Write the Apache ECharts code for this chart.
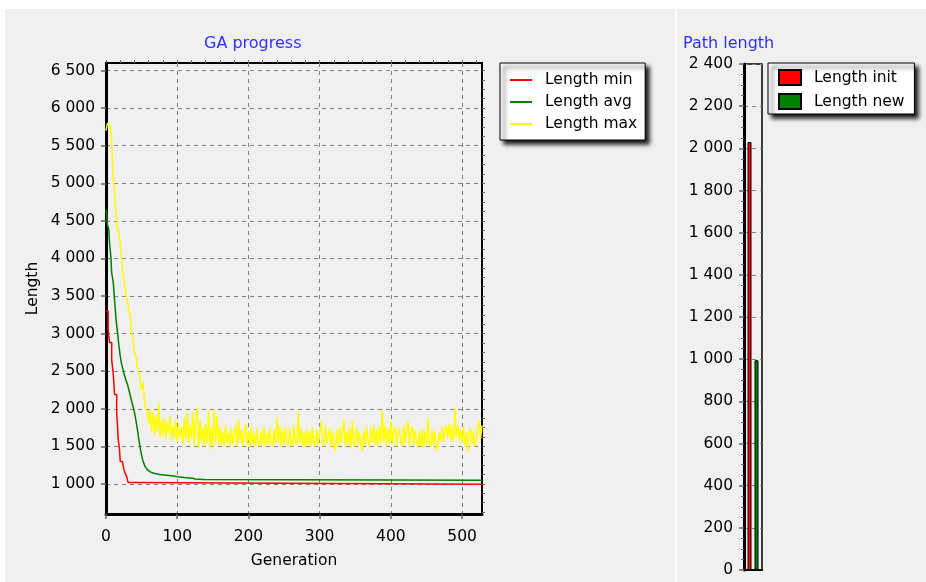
<!DOCTYPE html>
<html>
<head>
<meta charset="utf-8">
<title>GA progress</title>
<script src="https://cdn.jsdelivr.net/npm/echarts@6/dist/echarts.min.js"></script>
<style>
html, body { margin: 0; padding: 0; background: #fff; }
#chart { width: 926px; height: 582px; }
</style>
</head>
<body>
<div id="chart"></div>
<script>
// GA progress: step data for the min curve, break points for the avg curve
const minGens = [0, 3, 5, 8, 10, 11, 12, 15, 16, 17, 19, 20, 23, 25, 27, 29, 31, 40, 528]
const minValues = [3300, 3050, 2880, 2650, 2480, 2350, 2190, 1930, 1800, 1610, 1450, 1300, 1290, 1200, 1140, 1100, 1020, 995, 995]

const avgGens = [0, 1, 2, 4, 5, 7, 8, 10, 12, 14, 16, 18, 20, 22, 25, 28, 30, 33, 36, 38, 40, 42, 44, 46, 48, 50, 52, 55, 58, 62, 66, 75, 85, 95, 100, 110, 122, 125, 138, 140, 528]
const avgValues = [4650, 4600, 4450, 4380, 4200, 4000, 3800, 3700, 3450, 3200, 3030, 2850, 2700, 2590, 2480, 2380, 2330, 2220, 2100, 2030, 1950, 1850, 1730, 1600, 1480, 1380, 1300, 1230, 1190, 1160, 1145, 1125, 1115, 1105, 1095, 1085, 1075, 1065, 1060, 1050, 1050]

// max length, one value every 2 generations (0..528)
const maxStep = 2
const maxValues = [
  5700, 5800, 5780, 5750, 5550, 5100, 4900, 4600, 4400, 4350,
  4200, 4000, 3800, 3650, 3500, 3450, 3300, 3250, 3000, 2900,
  2750, 2700, 2550, 2500, 2400, 2250, 2350, 2100, 2000, 1950,
  1800, 2000, 1700, 1950, 1650, 1900, 1700, 2080, 1620, 1850,
  1650, 1880, 1600, 1820, 1680, 1900, 1580, 1780, 1620, 1850,
  1560, 1800, 1620, 1750, 1520, 1880, 1600, 1950, 1540, 1780,
  1600, 1960, 1500, 1820, 2020, 1480, 1850, 1560, 1760, 1500,
  1800, 1540, 1980, 1500, 1760, 1460, 2000, 1560, 1900, 1520,
  1760, 1520, 1700, 1500, 1780, 1540, 1680, 1500, 1740, 1520,
  1680, 1780, 1500, 1860, 1560, 1720, 1500, 1680, 1800, 1520,
  1700, 1480, 1760, 1520, 1680, 1500, 1740, 1540, 1500, 1700,
  1520, 1760, 1500, 1680, 1520, 1740, 1560, 1500, 1720, 1540,
  1880, 1540, 1780, 1500, 1720, 1520, 1760, 1560, 1500, 1740,
  1540, 1500, 1780, 1560, 1520, 1960, 1540, 1740, 1500, 1700,
  1480, 1720, 1520, 1700, 1500, 1760, 1540, 1500, 1720, 1520,
  1680, 1840, 1560, 1500, 1780, 1540, 1520, 1740, 1480, 1700,
  1520, 1440, 1720, 1500, 1760, 1540, 1680, 1860, 1500, 1700,
  1520, 1740, 1480, 1840, 1540, 1500, 1760, 1520, 1700, 1500,
  1440, 1700, 1520, 1760, 1560, 1500, 1740, 1540, 1780, 1520,
  1720, 1500, 1760, 1540, 1980, 1560, 1780, 1500, 1740, 1540,
  1840, 1520, 1720, 1760, 1500, 1700, 1740, 1540, 1500, 1780,
  1540, 1740, 1840, 1500, 1720, 1760, 1520, 1720, 1560, 1480,
  1700, 1500, 1720, 1480, 1700, 1520, 1880, 1540, 1500, 1720,
  1520, 1700, 1440, 1500, 1680, 1560, 1760, 1560, 1720, 1780,
  1620, 1800, 1580, 1760, 1560, 2010, 1620, 1780, 1580, 1720,
  1540, 1760, 1500, 1700, 1440, 1680, 1740, 1520, 1700, 1500,
  1560, 1760, 1840, 1600, 1780
]

const xTicks = [0, 100, 200, 300, 400, 500]
const yTicks = [1000, 1500, 2000, 2500, 3000, 3500, 4000, 4500, 5000, 5500, 6000, 6500]

// Path length bars
const pathNames = ['Length init', 'Length new']
const pathValues = [2030, 995]

const font = 'DejaVu Sans'
const fmt = v => String(v).replace(/\B(?=(\d{3})+(?!\d))/g, ' ')

// minor tick positions
const xMinor = []
for (let g = 0; g <= 528; g += 20) xMinor.push(g)
const yMinor = []
for (let v = 625; v <= 6600; v += 125) yMinor.push(v)

const dashed = { color: '#808080', width: 1, type: [4, 4] }
const legendBox = {
  orient: 'vertical',
  backgroundColor: '#fff',
  borderColor: '#000',
  borderWidth: 1,
  borderRadius: 0,
  shadowColor: 'rgba(0,0,0,0.9)',
  shadowBlur: 4,
  shadowOffsetX: 4,
  shadowOffsetY: 4,
  icon: 'rect',
  textStyle: { fontSize: 15.5, color: '#000', fontFamily: font, padding: [0, 0, 0, 8] }
}

const chart = echarts.init(document.getElementById('chart'))
chart.setOption({
  animation: false,
  textStyle: { fontFamily: font },
  graphic: [
    { type: 'rect', z: -100, shape: { x: 5, y: 9, width: 670, height: 573 }, style: { fill: '#f0f0f0' } },
    { type: 'rect', z: -100, shape: { x: 677, y: 9, width: 249, height: 573 }, style: { fill: '#f0f0f0' } }
  ],
  title: [
    { text: 'GA progress', left: 199, top: 31, textStyle: { color: '#3030ff', fontSize: 16, fontWeight: 'normal', fontFamily: font } },
    { text: 'Path length', left: 678, top: 31, textStyle: { color: '#3030ff', fontSize: 16, fontWeight: 'normal', fontFamily: font } }
  ],
  legend: [Object.assign({}, legendBox, {
    left: 500,
    top: 63,
    data: ['Length min', 'Length avg', 'Length max'],
    itemWidth: 22,
    itemHeight: 2,
    itemGap: 6,
    padding: [9, 8, 8, 10]
  }), Object.assign({}, legendBox, {
    left: 768,
    top: 63,
    data: pathNames,
    itemWidth: 22,
    itemHeight: 15,
    itemGap: 7,
    padding: [6, 10, 4, 10]
  })],
  grid: [
    { left: 106, top: 63, width: 376, height: 451, show: true, borderColor: '#000', borderWidth: 2, backgroundColor: 'transparent' },
    { left: 744, top: 64, width: 18, height: 506, show: true, borderColor: '#000', borderWidth: 1.5, backgroundColor: 'transparent' }
  ],
  xAxis: [{
    type: 'value',
    gridIndex: 0,
    min: 0,
    max: 528,
    name: 'Generation',
    nameLocation: 'middle',
    nameGap: 39,
    nameTextStyle: { fontSize: 15.5, color: '#000', fontFamily: font },
    axisLine: { show: true, onZero: false, lineStyle: { color: '#000', width: 3 } },
    axisTick: { show: true, customValues: xTicks, length: 5, lineStyle: { color: '#666', width: 1.5 } },
    axisLabel: { customValues: xTicks, margin: 15, fontSize: 15.5, color: '#000', fontFamily: font },
    splitLine: { show: true, lineStyle: dashed }
  }, {
    type: 'value',
    gridIndex: 0,
    min: 0,
    max: 528,
    axisLine: { show: false, onZero: false },
    axisTick: { show: true, customValues: xMinor, length: 3, lineStyle: { color: '#666', width: 1 } },
    axisLabel: { show: false },
    splitLine: { show: false }
  }, {
    type: 'category',
    gridIndex: 1,
    data: [''],
    axisLine: { show: true, lineStyle: { color: '#000', width: 2 } },
    axisTick: { show: false },
    axisLabel: { show: false },
    splitLine: { show: false }
  }],
  yAxis: [{
    type: 'value',
    gridIndex: 0,
    min: 600,
    max: 6600,
    name: 'Length',
    nameLocation: 'middle',
    nameGap: 65,
    nameTextStyle: { fontSize: 15.5, color: '#000', fontFamily: font },
    axisLine: { show: true, onZero: false, lineStyle: { color: '#000', width: 3 } },
    axisTick: { show: true, customValues: yTicks, length: 5, lineStyle: { color: '#666', width: 1.5 } },
    axisLabel: { customValues: yTicks, margin: 11, fontSize: 15.5, color: '#000', fontFamily: font, formatter: fmt },
    splitLine: { show: true, lineStyle: dashed }
  }, {
    type: 'value',
    gridIndex: 0,
    min: 600,
    max: 6600,
    axisLine: { show: false, onZero: false },
    axisTick: { show: true, customValues: yMinor, length: 3, lineStyle: { color: '#666', width: 1 } },
    axisLabel: { show: false },
    splitLine: { show: false }
  }, {
    type: 'value',
    gridIndex: 1,
    min: 0,
    max: 2400,
    interval: 200,
    axisLine: { show: true, lineStyle: { color: '#000', width: 3 } },
    axisTick: { show: true, length: 5, lineStyle: { color: '#666', width: 1.5 } },
    minorTick: { show: true, splitNumber: 4, length: 3, lineStyle: { color: '#666', width: 1 } },
    axisLabel: { margin: 11, fontSize: 15.5, color: '#000', fontFamily: font, formatter: fmt },
    splitLine: { show: true, lineStyle: dashed }
  }],
  series: [{
    name: 'Length min',
    type: 'line',
    xAxisIndex: 0,
    yAxisIndex: 0,
    step: 'end',
    symbol: 'none',
    color: '#ff0000',
    lineStyle: { color: '#ff0000', width: 1.5 },
    data: minGens.map((g, i) => [g, minValues[i]])
  }, {
    name: 'Length avg',
    type: 'line',
    xAxisIndex: 0,
    yAxisIndex: 0,
    symbol: 'none',
    color: '#008000',
    lineStyle: { color: '#008000', width: 1.5 },
    data: avgGens.map((g, i) => [g, avgValues[i]])
  }, {
    name: 'Length max',
    type: 'line',
    xAxisIndex: 0,
    yAxisIndex: 0,
    symbol: 'none',
    color: '#ffff00',
    lineStyle: { color: '#ffff00', width: 1.5 },
    data: maxValues.map((v, i) => [i * maxStep, v])
  }, {
    name: pathNames[0],
    type: 'bar',
    xAxisIndex: 2,
    yAxisIndex: 2,
    barWidth: 4,
    barGap: '75%',
    itemStyle: { color: '#ff0000', borderColor: '#000', borderWidth: 1 },
    data: [pathValues[0]]
  }, {
    name: pathNames[1],
    type: 'bar',
    xAxisIndex: 2,
    yAxisIndex: 2,
    barWidth: 4,
    barGap: '75%',
    itemStyle: { color: '#008000', borderColor: '#000', borderWidth: 1 },
    data: [pathValues[1]]
  }]
})
</script>
</body>
</html>
